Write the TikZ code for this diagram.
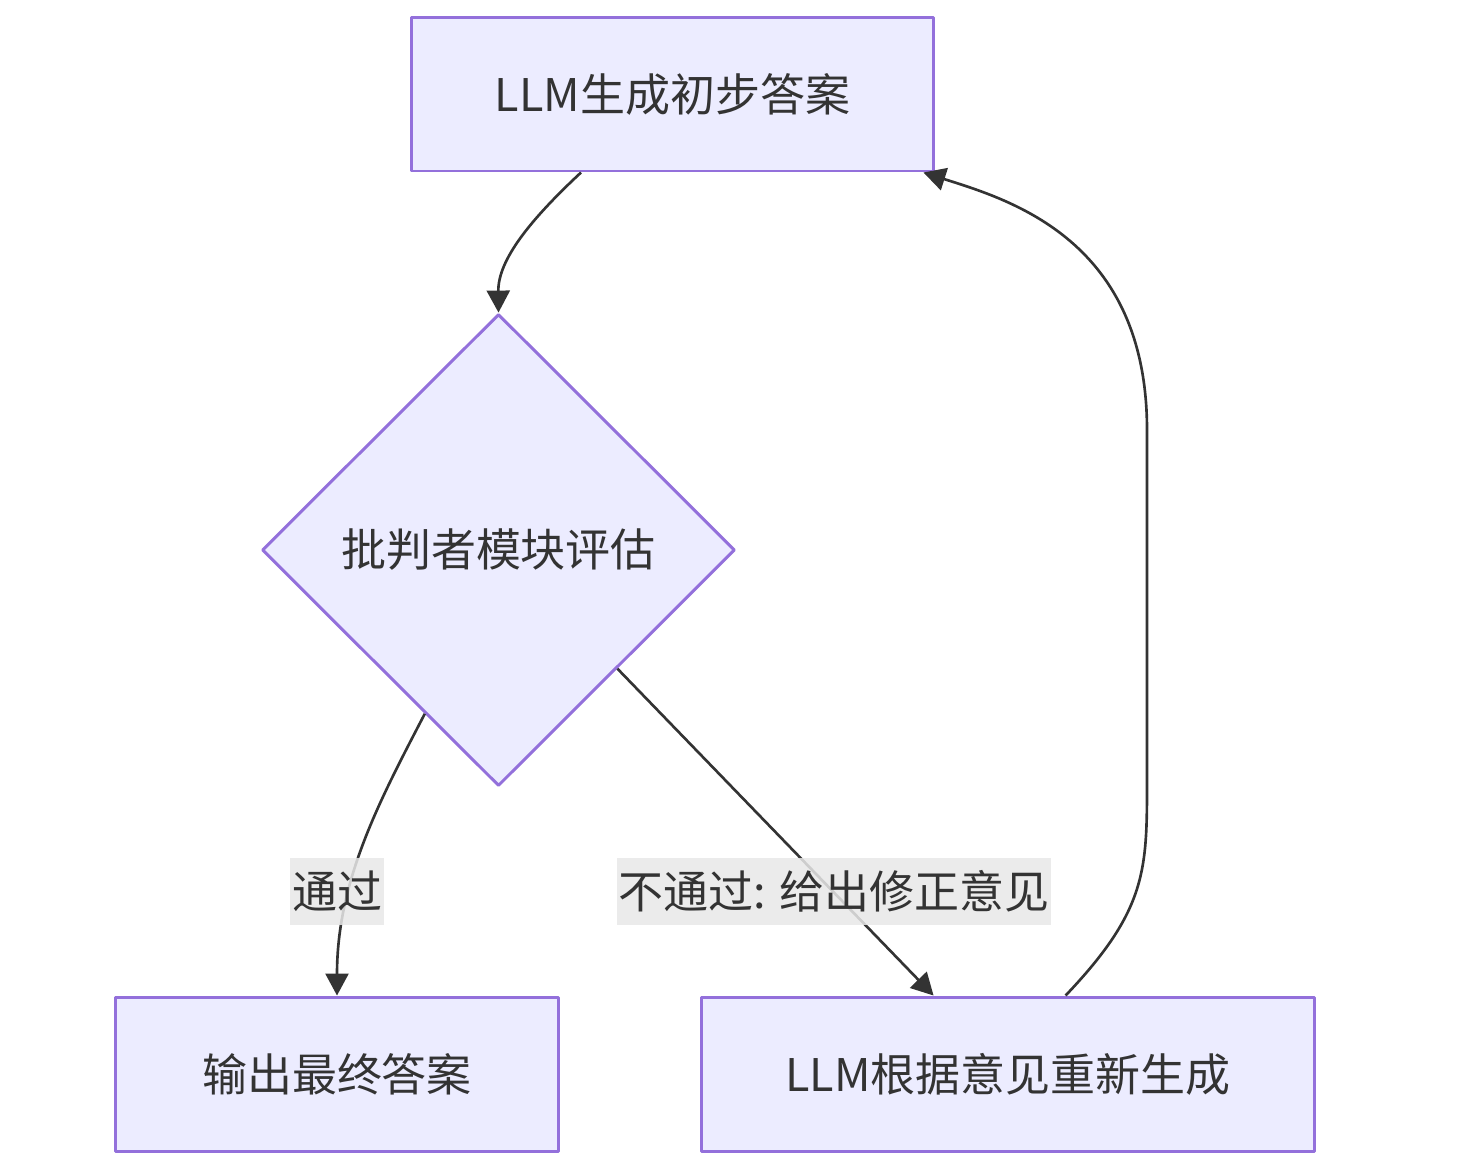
\documentclass[tikz,border=0pt]{standalone}
\usepackage{fontspec}
\setmainfont{Noto Sans CJK SC}
\usetikzlibrary{arrows.meta,shapes.geometric,calc}
\definecolor{nodefill}{HTML}{ECECFF}
\definecolor{nodeline}{HTML}{9370DB}
\definecolor{ink}{HTML}{333333}
\begin{document}
\begin{tikzpicture}[x=0.02cm,y=-0.02cm,line join=round,font=\fontsize{25.6pt}{30pt}\selectfont,text=ink,
	box/.style={draw=nodeline,fill=nodefill,line width=1.7pt,minimum height=3.08cm,inner sep=0pt},
	decision/.style={draw=nodeline,fill=nodefill,line width=1.7pt,diamond,minimum width=9.46cm,minimum height=9.44cm,inner sep=0pt},
	flow/.style={draw=ink,line width=1.5pt,-{Triangle[length=0.44cm,width=0.46cm]}},
	lbl/.style={fill=black!9,fill opacity=0.85,text opacity=1,minimum height=1.34cm,inner xsep=1pt,inner ysep=0pt}]
	\useasboundingbox (0,0) rectangle (1477,1171);
	% nodes
	\node [box,minimum width=10.46cm] (init) at (672.5,94) {LLM生成初步答案};
	\node [decision] (judge) at (498.5,550) {批判者模块评估};
	\node [box,minimum width=8.88cm] (output) at (337,1074) {输出最终答案};
	\node [box,minimum width=12.28cm] (regen) at (1008,1074) {LLM根据意见重新生成};
	% connectors
	\draw [flow] ($(init.south)+(-91.5,0)$) .. controls (530,220) and (498,260) .. (judge.north);
	\draw [flow] ($(judge.south)!0.31!(judge.west)$) .. controls (380,800) and (337,880) .. (output.north);
	\draw [flow] ($(judge.south)!0.5!(judge.east)$) -- ($(regen.north west)+(234,0)$);
	\draw [flow] ($(regen.north west)+(366,0)$) .. controls (1147,910) and (1147,870) .. (1147,780) -- (1147,430) .. controls (1147,240) and (1010,200) .. ($(init.south east)+(-12,0)$);
	% labels
	\node [lbl] (pass) at (337,891) {通过};
	\node [lbl] (fail) at (834,891) {不通过: 给出修正意见};
\end{tikzpicture}
\end{document}
